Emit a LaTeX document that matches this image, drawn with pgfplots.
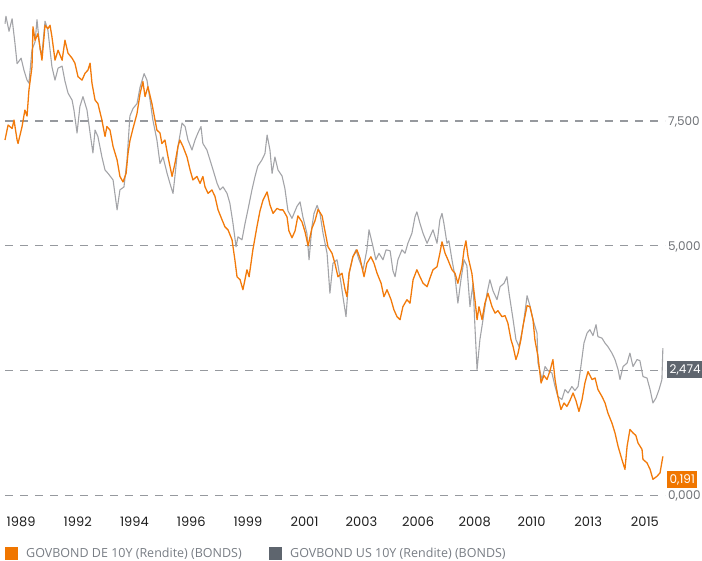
\documentclass[border=0pt]{standalone}
\usepackage{fontspec}
\setmainfont{Poppins}
\newfontfamily\legfont{Open Sans}
\usepackage{pgfplots}
\usepackage{pgfplotstable}
\pgfplotsset{compat=1.18}
\definecolor{deorange}{RGB}{242,122,10}
\definecolor{boxorange}{RGB}{240,118,0}
\definecolor{usline}{RGB}{163,164,168}
\definecolor{usdark}{RGB}{94,101,110}
\definecolor{gridgray}{RGB}{150,153,158}
\definecolor{labgray}{RGB}{110,113,118}
\definecolor{leggray}{RGB}{120,125,132}

\pgfplotstableread{
year value
1989.03 9.45
1989.07 9.60
1989.20 9.30
1989.33 9.55
1989.45 9.06
1989.54 8.65
1989.62 8.70
1989.71 8.76
1989.83 8.52
1989.96 8.32
1990.04 8.26
1990.17 8.93
1990.30 9.09
1990.38 9.53
1990.51 8.93
1990.59 8.85
1990.72 9.50
1990.84 9.32
1991.01 8.59
1991.14 8.32
1991.27 8.56
1991.44 8.60
1991.56 8.30
1991.69 8.06
1991.86 7.92
1991.94 7.72
1992.07 7.26
1992.19 7.79
1992.32 7.99
1992.49 7.72
1992.62 7.26
1992.74 6.86
1992.83 7.32
1992.95 7.19
1993.12 6.78
1993.25 6.52
1993.38 6.45
1993.59 6.32
1993.76 5.72
1993.88 6.12
1994.05 6.18
1994.18 6.72
1994.30 7.60
1994.43 7.75
1994.60 7.85
1994.73 8.18
1994.90 8.45
1995.02 8.32
1995.15 7.92
1995.27 7.52
1995.44 7.12
1995.57 6.65
1995.70 6.78
1995.87 6.45
1995.99 6.25
1996.12 6.05
1996.20 6.39
1996.33 6.99
1996.50 7.46
1996.63 7.39
1996.75 7.12
1996.92 6.92
1997.05 7.12
1997.17 7.26
1997.30 7.39
1997.38 7.05
1997.55 6.92
1997.68 6.72
1997.81 6.52
1997.98 6.25
1998.10 6.12
1998.23 6.18
1998.40 6.05
1998.52 5.85
1998.65 5.45
1998.78 4.98
1998.86 5.18
1999.03 5.12
1999.16 5.45
1999.28 5.72
1999.45 6.12
1999.58 6.39
1999.70 6.60
1999.87 6.72
2000.00 6.85
2000.09 7.22
2000.21 6.92
2000.30 6.45
2000.42 6.78
2000.55 6.52
2000.72 6.40
2000.84 6.15
2000.97 5.70
2001.14 5.55
2001.35 5.79
2001.48 5.88
2001.60 5.58
2001.77 5.25
2001.86 4.72
2001.98 5.38
2002.07 5.65
2002.20 5.81
2002.32 5.65
2002.45 5.25
2002.62 4.85
2002.74 4.05
2002.87 4.65
2003.04 4.72
2003.21 4.25
2003.29 3.98
2003.42 3.58
2003.55 4.45
2003.71 4.78
2003.84 4.92
2003.97 4.72
2004.14 4.52
2004.30 4.92
2004.39 5.32
2004.56 4.98
2004.68 4.72
2004.81 4.85
2004.98 4.72
2005.11 4.92
2005.28 4.90
2005.40 4.50
2005.49 4.38
2005.61 4.72
2005.78 4.92
2005.91 4.85
2006.03 5.05
2006.20 5.25
2006.33 5.58
2006.41 5.68
2006.54 5.45
2006.67 5.25
2006.84 5.05
2006.96 5.18
2007.09 5.32
2007.26 5.05
2007.38 5.52
2007.47 5.65
2007.55 5.45
2007.68 5.05
2007.76 5.10
2007.89 4.72
2008.02 4.38
2008.14 3.85
2008.27 4.32
2008.40 4.72
2008.52 4.60
2008.65 3.78
2008.78 4.25
2008.86 3.38
2008.95 2.52
2009.07 3.12
2009.20 3.52
2009.37 4.05
2009.49 4.32
2009.62 4.10
2009.79 3.92
2009.92 4.18
2010.09 4.25
2010.21 4.38
2010.30 4.05
2010.47 3.52
2010.59 3.12
2010.72 2.98
2010.89 3.38
2011.06 4.00
2011.18 3.80
2011.31 3.52
2011.48 3.25
2011.52 2.65
2011.69 2.32
2011.82 2.58
2011.94 2.50
2012.11 2.45
2012.24 2.18
2012.36 1.98
2012.53 1.92
2012.66 2.12
2012.79 2.05
2012.95 2.18
2013.08 2.10
2013.21 2.18
2013.33 2.58
2013.46 3.05
2013.59 3.25
2013.71 3.32
2013.84 3.20
2013.97 3.42
2014.05 3.18
2014.22 3.15
2014.35 3.05
2014.47 2.98
2014.64 2.85
2014.77 2.72
2014.90 2.52
2014.98 2.32
2015.11 2.58
2015.28 2.65
2015.40 2.85
2015.53 2.58
2015.70 2.72
2015.82 2.70
2015.95 2.38
2016.12 2.35
2016.25 2.12
2016.37 1.85
2016.50 1.95
2016.63 2.12
2016.75 2.32
2016.79 2.95
}\usdata

\pgfplotstableread{
year value
1989.03 7.12
1989.16 7.42
1989.33 7.35
1989.41 7.52
1989.54 7.12
1989.58 7.05
1989.75 7.39
1989.87 7.72
1989.96 7.60
1990.04 8.12
1990.17 8.59
1990.21 9.39
1990.30 9.12
1990.42 9.25
1990.59 8.72
1990.72 9.42
1990.84 9.35
1990.93 9.42
1991.01 9.19
1991.14 8.72
1991.27 8.92
1991.44 8.72
1991.56 9.12
1991.69 8.86
1991.86 8.76
1991.98 8.66
1992.11 8.39
1992.28 8.32
1992.41 8.46
1992.53 8.52
1992.62 8.66
1992.70 8.26
1992.83 7.92
1992.95 7.85
1993.12 7.52
1993.25 7.19
1993.33 7.39
1993.46 7.32
1993.59 6.99
1993.76 6.72
1993.88 6.39
1994.01 6.28
1994.14 6.45
1994.22 6.85
1994.30 7.10
1994.43 7.35
1994.60 7.65
1994.73 8.05
1994.85 8.29
1994.94 7.99
1995.06 8.19
1995.23 7.85
1995.36 7.52
1995.44 7.32
1995.57 7.26
1995.65 7.05
1995.78 7.12
1995.91 6.78
1996.08 6.39
1996.20 6.65
1996.33 6.99
1996.41 7.12
1996.54 6.99
1996.71 6.78
1996.84 6.52
1996.96 6.32
1997.13 6.39
1997.26 6.25
1997.38 6.39
1997.47 6.18
1997.60 6.05
1997.76 6.12
1997.89 5.99
1998.02 5.72
1998.19 5.52
1998.31 5.38
1998.44 5.32
1998.61 5.12
1998.73 4.72
1998.82 4.38
1998.95 4.32
1999.07 4.12
1999.24 4.52
1999.33 4.38
1999.49 4.92
1999.66 5.38
1999.79 5.70
1999.92 5.92
2000.09 6.08
2000.21 5.82
2000.34 5.65
2000.51 5.75
2000.63 5.72
2000.76 5.72
2000.93 5.58
2001.01 5.30
2001.14 5.16
2001.27 5.30
2001.39 5.60
2001.56 5.48
2001.69 5.28
2001.82 5.00
2001.98 5.35
2002.11 5.50
2002.24 5.73
2002.41 5.60
2002.53 5.30
2002.66 4.98
2002.83 4.85
2002.95 4.65
2003.08 4.38
2003.25 4.45
2003.38 4.12
2003.46 3.98
2003.55 4.45
2003.71 4.78
2003.88 4.92
2004.01 4.75
2004.18 4.38
2004.30 4.65
2004.47 4.78
2004.60 4.65
2004.73 4.45
2004.90 4.25
2005.02 3.98
2005.15 4.12
2005.32 3.92
2005.44 3.72
2005.57 3.58
2005.70 3.52
2005.82 3.78
2005.99 3.92
2006.12 3.85
2006.25 4.32
2006.41 4.52
2006.54 4.38
2006.67 4.25
2006.84 4.18
2006.96 4.35
2007.09 4.52
2007.26 4.58
2007.38 4.85
2007.47 5.08
2007.60 4.85
2007.72 4.72
2007.89 4.52
2008.02 4.45
2008.14 4.25
2008.31 4.58
2008.40 4.92
2008.48 5.10
2008.57 4.78
2008.73 4.45
2008.86 3.92
2008.95 3.52
2009.03 3.78
2009.16 3.52
2009.28 3.85
2009.41 4.05
2009.58 3.78
2009.71 3.65
2009.83 3.70
2010.00 3.58
2010.13 3.60
2010.25 3.45
2010.38 3.12
2010.47 2.98
2010.59 2.72
2010.68 2.85
2010.80 3.12
2010.89 3.40
2011.06 3.80
2011.18 3.78
2011.31 3.52
2011.39 3.12
2011.52 2.78
2011.65 2.25
2011.77 2.40
2011.90 2.32
2012.03 2.50
2012.15 2.72
2012.24 2.32
2012.36 1.98
2012.49 1.72
2012.62 1.85
2012.74 1.78
2012.87 1.90
2013.00 2.05
2013.12 1.90
2013.25 1.68
2013.38 1.92
2013.50 2.25
2013.63 2.48
2013.80 2.32
2013.93 2.35
2014.05 2.12
2014.22 1.98
2014.35 1.85
2014.47 1.65
2014.64 1.45
2014.77 1.25
2014.90 0.98
2015.06 0.72
2015.19 0.52
2015.28 0.98
2015.40 1.32
2015.53 1.25
2015.65 1.20
2015.74 1.05
2015.91 0.92
2015.95 0.72
2016.12 0.65
2016.25 0.52
2016.37 0.32
2016.54 0.38
2016.67 0.45
2016.79 0.78
}\dedata

\begin{document}
\begin{tikzpicture}
\begin{axis}[
  scale only axis,
  width=660pt, height=500.3pt,
  xmin=1989.03, xmax=2016.88,
  ymin=-0.1, ymax=9.926,
  axis line style={draw=none},
  clip=false,
  major tick length=0pt,
  xtick={1989.71,1992.10,1994.49,1996.89,1999.28,2001.67,2004.07,2006.46,2008.85,2011.25,2013.64,2016.03},
  xticklabels={1989,1992,1994,1996,1999,2001,2003,2006,2008,2010,2013,2015},
  xticklabel style={font=\fontsize{13}{15}\selectfont, text=black!88, anchor=center, yshift=-21.5pt},
  ytick={0,2.5,5,7.5},
  yticklabels={{0,000},{2,500},{5,000},{7,500}},
  ytick pos=right, yticklabel pos=right,
  yticklabel style={font=\fontsize{12}{14}\selectfont, text=labgray, anchor=base west, inner sep=0pt, xshift=3pt, yshift=-4.3pt},
  ymajorgrids,
  grid style={draw=gridgray, line width=1.2pt, dash pattern=on 8pt off 7pt},
]
\addplot[color=usline, line width=1.1pt, line join=round] table[x=year, y=value] {\usdata};
\addplot[color=deorange, line width=1.3pt, line join=round] table[x=year, y=value] {\dedata};
\coordinate (sw) at (rel axis cs:0,0);
\coordinate (usv) at (axis cs:2016.88,2.474);
\coordinate (dev) at (axis cs:2016.88,0.191);
\end{axis}
% value boxes
\node[fill=usdark, text=white, anchor=west, inner xsep=2.5pt, inner ysep=0pt, minimum height=17pt, font=\fontsize{12}{14}\selectfont] at ([xshift=2pt,yshift=2pt]usv) {2,474};
\node[fill=boxorange, text=white, anchor=west, inner xsep=2.5pt, inner ysep=0pt, minimum height=17pt, font=\fontsize{12}{14}\selectfont] at ([xshift=2pt,yshift=6pt]dev) {0,191};
% legend
\fill[boxorange] ([yshift=-46.5pt]sw) rectangle ++(13pt,-13pt);
\node[anchor=west, inner sep=0pt, text=leggray, font=\legfont\fontsize{12.5}{14}\selectfont] at ([xshift=21pt,yshift=-53pt]sw) {GOVBOND DE 10Y (Rendite) (BONDS)};
\fill[usdark] ([xshift=264pt,yshift=-46.5pt]sw) rectangle ++(13pt,-13pt);
\node[anchor=west, inner sep=0pt, text=leggray, font=\legfont\fontsize{12.5}{14}\selectfont] at ([xshift=285pt,yshift=-53pt]sw) {GOVBOND US 10Y (Rendite) (BONDS)};
\pgfresetboundingbox
\path[use as bounding box] ([xshift=-5pt,yshift=-60.7pt]sw) rectangle ([xshift=697pt,yshift=500.3pt]sw);
\end{tikzpicture}
\end{document}
